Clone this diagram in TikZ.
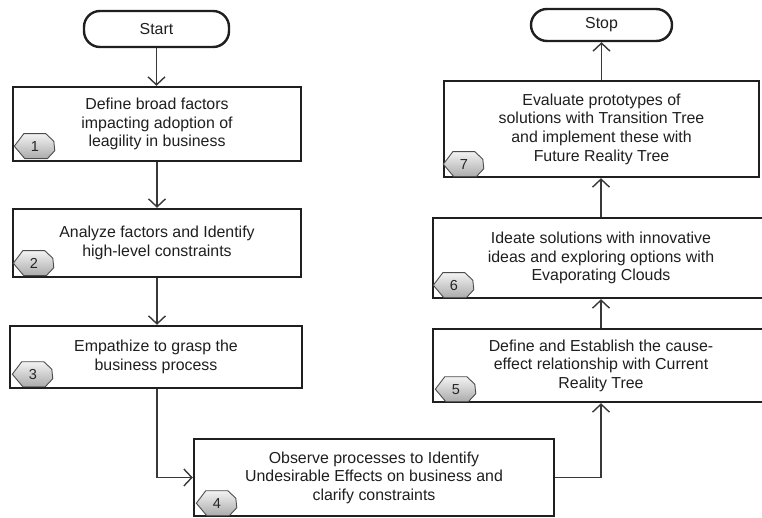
\documentclass[tikz,border=0pt]{standalone}
\usepackage{fontspec}
\setmainfont{Liberation Sans}
\usetikzlibrary{arrows.meta,shadows,calc}

% numbered step tag: shaded seven-sided plate with a number on it
\newcommand\steptag[3]{%
  \begin{scope}[shift={(#2)}]
    \draw[tagplate] (-20.5,0) -- (-11,-12.5) -- (11,-12.5) -- (19,-5) -- (20,4.5)
      -- (12.5,12.5) -- (-10,12.5) -- cycle;
  \end{scope}
  \node[tagtext] (#1) at (#2) {#3};%
}

\begin{document}
\begin{tikzpicture}[x=1pt,y=-1pt,
  stepbox/.style={draw=black!88, line width=2.4pt, fill=white, align=center,
    inner sep=0pt, text=black!88, font=\fontsize{15.9}{18.6}\selectfont,
    general shadow={fill=black!55, shadow xshift=0.9pt, shadow yshift=-0.9pt}},
  terminal/.style={stepbox, rounded corners=16pt},
  link/.style={draw=black!78, line width=1.4pt,
    -{Straight Barb[length=8pt,width=17pt,line width=1.4pt]}},
  tagplate/.style={draw=black!70, line width=0.9pt, top color=black!5,
    bottom color=black!33},
  tagtext/.style={font=\fontsize{14.5}{14.5}\selectfont, text=black!85, inner sep=0pt}]

\useasboundingbox (0,0) rectangle (762,518);
\clip (0,0) rectangle (762,518);

% left column
\node[terminal, minimum width=145pt, minimum height=36pt] (start) at (156.5,29) {Start};
\node[stepbox, minimum width=288pt, minimum height=74pt] (b1) at (157,124)
  {Define broad factors\\impacting adoption of\\leagility in business};
\node[stepbox, minimum width=288pt, minimum height=68pt] (b2) at (157,243)
  {Analyze factors and Identify\\high-level constraints};
\node[stepbox, minimum width=292pt, minimum height=62pt] (b3) at (156,357)
  {Empathize to grasp the\\business process};

% bottom
\node[stepbox, minimum width=360pt, minimum height=77pt] (b4) at (374,477.5)
  {Observe processes to Identify\\Undesirable Effects on business and\\clarify constraints};

% right column
\node[stepbox, minimum width=336pt, minimum height=73pt] (b5) at (601,365.5)
  {Define and Establish the cause-\\effect relationship with Current\\Reality Tree};
\node[stepbox, minimum width=336pt, minimum height=80pt] (b6) at (601,258)
  {Ideate solutions with innovative\\ideas and exploring options with\\Evaporating Clouds};
\node[stepbox, minimum width=315pt, minimum height=96pt] (b7) at (601.5,129)
  {Evaluate prototypes of\\solutions with Transition Tree\\and implement these with\\Future Reality Tree};
\node[terminal, minimum width=141pt, minimum height=32pt] (stop) at (601.5,25) {Stop};

% step tags
\steptag{t1}{$(b1.south west)+(23,-16)$}{1}
\steptag{t2}{$(b2.south west)+(22,-15)$}{2}
\steptag{t3}{$(b3.south west)+(24,-15)$}{3}
\steptag{t4}{$(b4.south west)+(24,-14)$}{4}
\steptag{t5}{$(b5.south west)+(24,-14)$}{5}
\steptag{t6}{$(b6.south west)+(22,-14)$}{6}
\steptag{t7}{$(b7.south west)+(21,-14)$}{7}

% connectors
\draw[link] (start.south) -- (start.south |- b1.north);
\draw[link] (b1.south) -- (b1.south |- b2.north);
\draw[link] (b2.south) -- (b2.south |- b3.north);
\draw[link] ($(b3.south)+(1,0)$) |- (b4.west);
\draw[link] (b4.east) -| (b5.south);
\draw[link] (b5.north) -- (b5.north |- b6.south);
\draw[link] (b6.north) -- (b6.north |- b7.south);
\draw[link] (b7.north) -- (b7.north |- stop.south);

\end{tikzpicture}
\end{document}
